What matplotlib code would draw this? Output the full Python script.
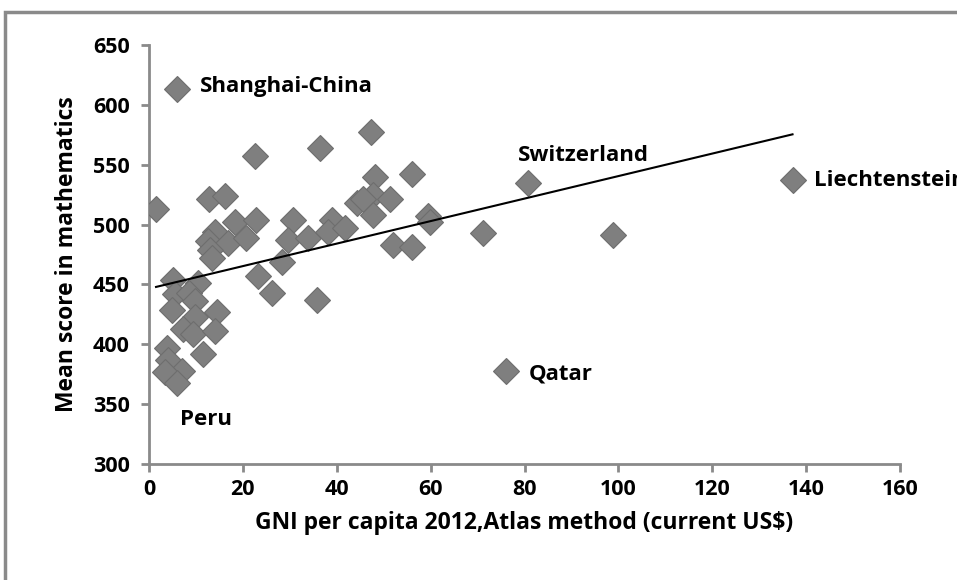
import numpy as np
import matplotlib
matplotlib.use("Agg")
import matplotlib.pyplot as plt
from matplotlib.patches import Rectangle

# GNI per capita 2012 (thousand US$) and PISA 2012 mean maths score
gni = [6.0, 137.1, 80.8, 76.1, 98.9, 71.2, 1.5, 12.8, 16.2, 18.3,
       22.8, 14.1, 12.6, 16.8, 20.7, 13.0, 13.4, 5.1, 10.4, 5.5,
       8.5, 4.9, 9.8, 9.8, 14.5, 7.2, 9.4, 14.0, 3.8, 11.5,
       4.0, 7.0, 3.4, 6.0, 22.6, 36.5, 30.7, 29.6, 33.9, 39.0,
       38.2, 41.8, 44.3, 28.4, 23.2, 26.2, 35.8, 47.3, 48.2, 56.1,
       47.8, 51.4, 45.6, 47.8, 59.5, 59.9, 52.0, 56.1]
score = [613, 537, 535, 378, 491, 493, 513, 521, 524, 502,
         504, 494, 486, 485, 489, 479, 472, 454, 451, 442,
         443, 429, 436, 423, 427, 413, 409, 411, 397, 392,
         387, 378, 377, 368, 557, 564, 504, 487, 489, 504,
         494, 497, 518, 469, 457, 443, 437, 577, 540, 542,
         525, 521, 521, 508, 507, 502, 483, 481]

# linear trend line as drawn in the reference
trend_intercept = 446.5
trend_slope = 0.94

labels = ["Shanghai-China", "Switzerland", "Liechtenstein", "Qatar", "Peru"]
label_pos = [(10.9, 615), (78.5, 558), (141.7, 537), (81.0, 375), (6.6, 337)]

xticks = [0, 20, 40, 60, 80, 100, 120, 140, 160]
yticks = [300, 350, 400, 450, 500, 550, 600, 650]

plt.rcParams['font.family'] = ["Open Sans", "DejaVu Sans"]
plt.rcParams['font.weight'] = 'bold'

fig = plt.figure(figsize=(9.57, 5.80), dpi=100)
ax = fig.add_axes([149/957, 1-464/580, (900-149)/957, (464-45)/580])

grey = "#8a8a8a"
ax.plot(gni, score, linestyle='none', marker='D', ms=13,
        mfc="#7f7f7f", mec="#6e6e6e", mew=0.8, zorder=3)

xs = np.array([min(gni), max(gni)])
ax.plot(xs, trend_intercept + trend_slope * xs, color='black', lw=1.5, zorder=4)

for t, (x, y) in zip(labels, label_pos):
    ax.text(x, y, t, fontsize=16, fontweight='bold', va='center', ha='left',
            color='black', clip_on=False)

ax.set_xlim(0, 160)
ax.set_ylim(300, 650)
ax.set_xticks(xticks)
ax.set_yticks(yticks)
ax.tick_params(direction='out', length=6, width=2, color=grey, labelsize=15.5)
ax.tick_params(axis='y', pad=8)
ax.tick_params(axis='x', pad=5)
for s in ['top', 'right']:
    ax.spines[s].set_visible(False)
for s in ['left', 'bottom']:
    ax.spines[s].set_color(grey)
    ax.spines[s].set_linewidth(2)

ax.set_xlabel("GNI per capita 2012,Atlas method (current US$)", fontsize=16.5,
              fontweight='bold', labelpad=8)
ax.set_ylabel("Mean score in mathematics", fontsize=16.5, fontweight='bold', labelpad=10)

fig.patches.append(Rectangle((5/957, -0.1), 1.2, 1 - 12/580 + 0.1,
                             transform=fig.transFigure, fill=False,
                             edgecolor=grey, lw=2.5))

fig.savefig("out.png", dpi=100)
